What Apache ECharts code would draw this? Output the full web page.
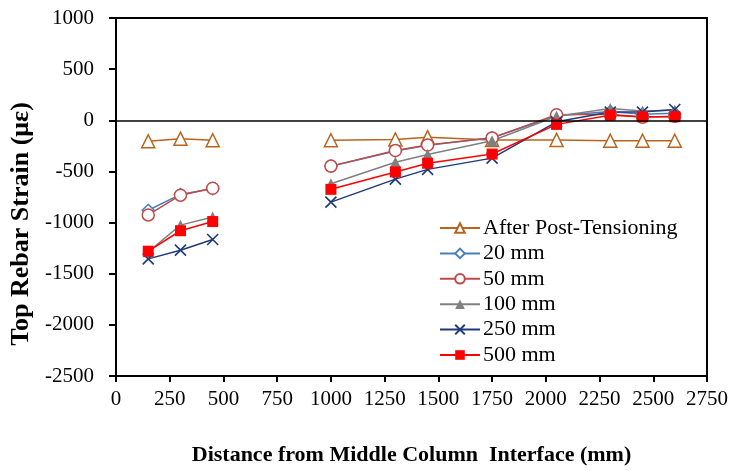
<!DOCTYPE html>
<html>
<head>
<meta charset="utf-8">
<script src="https://cdn.jsdelivr.net/npm/echarts@6/dist/echarts.min.js"></script>
<style>html,body{margin:0;padding:0;background:#fff}#c{width:735px;height:471px}</style>
</head>
<body>
<div id="c"></div>
<script>
// Distances (mm); the 700 slot is an empty gap entry that breaks the lines
var distances = [150, 300, 450, 700, 1000, 1300, 1450, 1750, 2050, 2300, 2450, 2600];
var afterPT = [-205, -180, -195, null, -195, -188, -165, -193, -192, -200, -200, -200];
var s20  = [-880, -725, -668, null, -450, -300, -245, -170, 45, 85, 60, 70];
var s50  = [-925, -732, -665, null, -448, -295, -242, -172, 55, 60, 30, 40];
var s100 = [-1285, -1025, -945, null, -620, -410, -335, -200, 40, 115, 90, 98];
var s250 = [-1355, -1270, -1165, null, -800, -575, -480, -370, -15, 80, 80, 105];
var s500 = [-1280, -1080, -990, null, -675, -505, -420, -330, -40, 50, 35, 35];
var xTicks = {min: 0, max: 2750, interval: 250};
var yTicks = {min: -2500, max: 1000, interval: 500};

function pairs(v) { return distances.map(function (d, i) { return [d, v[i]]; }); }
var FONT = 'Liberation Serif';

function mk(name, vals, color, symbol, size, hollow) {
  return {
    name: name, type: 'line', data: pairs(vals), connectNulls: false,
    symbol: symbol, symbolSize: size, showAllSymbol: true,
    lineStyle: {color: color, width: 1.5},
    itemStyle: hollow ? {color: '#fff', borderColor: color, borderWidth: 1.5} : {color: color, borderColor: color, borderWidth: 0},
    emphasis: {disabled: true}, animation: false
  };
}

var chart = echarts.init(document.getElementById('c'), null, {renderer: 'canvas'});
var series = [
  mk('After Post-Tensioning', afterPT, '#b8641c', 'triangle', 13, true),
  mk('20 mm', s20, '#4a7ebb', 'diamond', 12, true),
  mk('50 mm', s50, '#be4b48', 'circle', 12, true),
  mk('100 mm', s100, '#808080', 'triangle', 11, false),
  mk('250 mm', s250, '#1f3a78', 'path://M0,0L10,10M10,0L0,10', 11, false),
  mk('500 mm', s500, '#ff0000', 'rect', 11, false)
];
series[4].itemStyle = {color: 'rgba(0,0,0,0)', borderColor: '#1f3a78', borderWidth: 1.6};
series[0].markLine = {
  silent: true, symbol: 'none', label: {show: false},
  lineStyle: {color: '#000', width: 1.5, type: 'solid'},
  data: [{yAxis: 0}]
};
function plain(v) { return String(v); }

chart.setOption({
  backgroundColor: '#fff',
  animation: false,
  grid: {left: 115, right: 28, top: 18, bottom: 94, show: true, borderColor: '#000', borderWidth: 2},
  xAxis: {
    type: 'value', min: xTicks.min, max: xTicks.max, interval: xTicks.interval,
    name: 'Distance from Middle Column  Interface (mm)', nameLocation: 'middle', nameGap: 68,
    nameTextStyle: {fontFamily: FONT, fontWeight: 'bold', fontSize: 22, color: '#000'},
    axisLine: {show: true, onZero: false, lineStyle: {color: '#000', width: 2}},
    axisTick: {show: true, inside: false, length: 6, lineStyle: {color: '#000', width: 2}},
    axisLabel: {fontFamily: FONT, fontSize: 21, color: '#000', margin: 13, formatter: plain},
    splitLine: {show: false}
  },
  yAxis: {
    type: 'value', min: yTicks.min, max: yTicks.max, interval: yTicks.interval,
    name: 'Top Rebar Strain (με)', nameLocation: 'middle', nameGap: 82,
    nameTextStyle: {fontFamily: FONT, fontWeight: 'bold', fontSize: 26, color: '#000', padding: [0, 54, 0, 0]},
    axisLine: {show: true, lineStyle: {color: '#000', width: 2}},
    axisTick: {show: true, inside: false, length: 7, lineStyle: {color: '#000', width: 2}},
    axisLabel: {fontFamily: FONT, fontSize: 21, color: '#000', margin: 22, formatter: plain},
    splitLine: {show: false}
  },
  legend: {
    orient: 'vertical', left: 434, top: 212,
    itemWidth: 40, itemHeight: 12, itemGap: 3.4,
    textStyle: {fontFamily: FONT, fontSize: 22, lineHeight: 21, color: '#000', padding: [0, 0, 0, -2]},
    data: series.map(function (s) { return s.name; })
  },
  series: series
});
</script>
</body>
</html>
